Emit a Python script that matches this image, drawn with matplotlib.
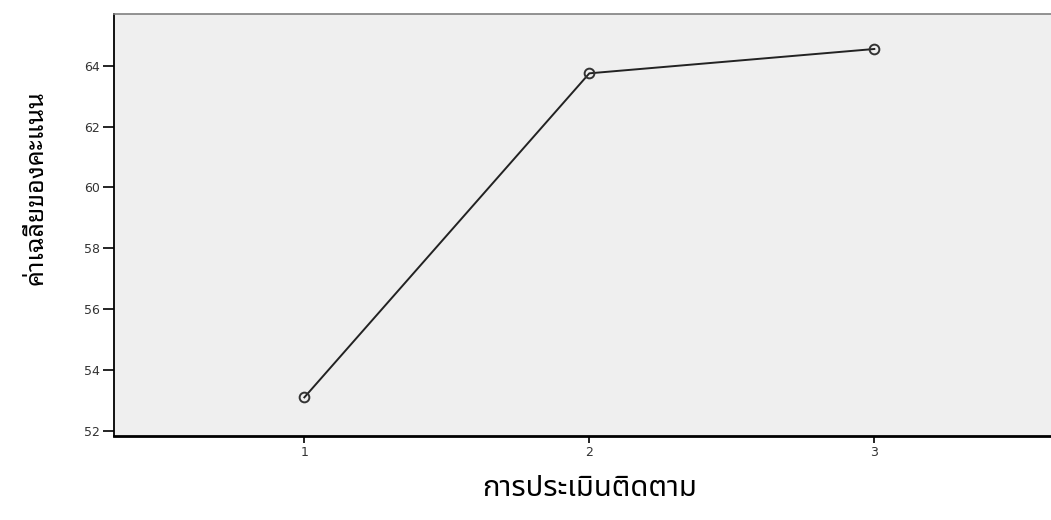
import matplotlib
matplotlib.use("Agg")
import matplotlib.pyplot as plt

# ค่าเฉลี่ยของคะแนน ในการประเมินแต่ละครั้ง
rounds = [1, 2, 3]
mean_scores = [53.1, 63.75, 64.55]
y_ticks = [52, 54, 56, 58, 60, 62, 64]

x_label = "การประเมินติดตาม"
y_label = "ค่าเฉลี่ยของคะแนน"

plt.rcParams['font.family'] = ['DejaVu Sans']

fig = plt.figure(figsize=(10.51, 5.2), dpi=100)
ax = fig.add_axes([114 / 1051, 1 - 436 / 520, 1 - 114 / 1051, (436 - 14) / 520])
ax.set_facecolor("#efefef")

ax.plot(rounds, mean_scores, color="#222222", lw=1.4,
        marker="o", ms=7, mfc="none", mec="#333333", mew=1.4)

ax.set_xlim(0.332, 3.62)
ax.set_ylim(51.83, 65.7)
ax.set_xticks(rounds)
ax.set_yticks(y_ticks)

ax.spines["right"].set_visible(False)
ax.spines["top"].set_color("#808080")
ax.spines["top"].set_linewidth(1.2)
ax.spines["left"].set_linewidth(1.3)
ax.spines["bottom"].set_linewidth(2)
ax.tick_params(direction="out", colors="black", width=1.2,
               labelsize=9, labelcolor="#333333")
ax.tick_params(axis="y", length=8, pad=2)
ax.tick_params(axis="x", length=5, pad=2)

fig.text(590 / 1051, 1 - 488 / 520, x_label, ha="center", va="center",
         fontsize=21, family=['Noto Sans Thai', 'DejaVu Sans'])
fig.text(36 / 1051, 1 - 188 / 520, y_label, ha="center", va="center",
         rotation=90, fontsize=18, family=['Noto Sans Thai Looped', 'DejaVu Sans'])

fig.savefig("out.png", dpi=100)
